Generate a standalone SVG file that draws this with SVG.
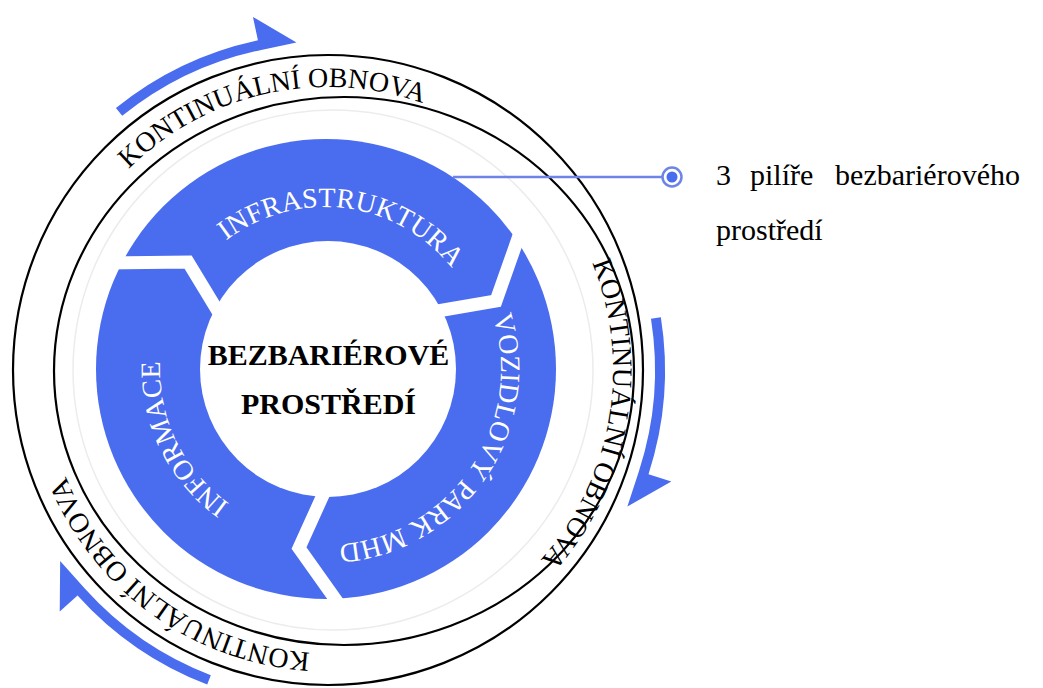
<svg xmlns="http://www.w3.org/2000/svg" width="1043" height="688" viewBox="0 0 1043 688">
<defs>
<style>
.serif{font-family:"Liberation Serif","Times New Roman",serif}
.ring-text{font-size:28px;fill:#ffffff}
.band-text{font-size:28px;fill:#000000}
.bline{fill:none;stroke:#000000;stroke-width:2.2}
.faint{fill:none;stroke:#ececec;stroke-width:1.5}
.gap{fill:none;stroke:#ffffff;stroke-width:13;stroke-linejoin:miter}
.blue{fill:#4A6CEE}
.label{font-size:30px;fill:#000000}
.center{font-size:30px;font-weight:bold;fill:#000000}
</style>
<path id="arrow" d="M122.21,115.87 A327,327 0 0 1 260.01,50.14 L296.47,42.51 L252.94,16.89 L257.93,40.36 A337,337 0 0 0 115.92,108.1 Z"/>
<path id="p-infra" d="M166.54,335.32 A162,162 0 0 1 486.9,374.65"/>
<path id="p-vozid" d="M435.76,232.22 A176,176 0 0 1 239.67,522.93"/>
<path id="p-inform" d="M384.13,523.04 A165,165 0 0 1 240.02,227.57"/>
<path id="p-top" d="M47.48,407.43 A283,283 0 0 1 597.75,284.43"/>
<path id="p-right" d="M401.04,94.52 A285,285 0 0 1 303.9,653.98"/>
<path id="p-bottom" d="M542.23,554.92 A283,283 0 0 1 84.91,225.08"/>
</defs>
<rect width="1043" height="688" fill="#ffffff"/>

<g id="cycle-arrows" class="blue">
<use href="#arrow"/>
<use href="#arrow" transform="rotate(120 328 370)"/>
<use href="#arrow" transform="rotate(240 328 370)"/>
</g>

<g id="node-obnova">
<circle cx="328" cy="370" r="315" class="bline"/>
<ellipse cx="344" cy="371" rx="290" ry="274" class="bline"/>
<circle cx="333" cy="370" r="260" class="faint"/>
<text class="serif band-text"><textPath href="#p-top" startOffset="50%" text-anchor="middle">KONTINUÁLNÍ OBNOVA</textPath></text>
<text class="serif band-text"><textPath href="#p-right" startOffset="50%" text-anchor="middle">KONTINUÁLNÍ OBNOVA</textPath></text>
<text class="serif band-text"><textPath href="#p-bottom" startOffset="50%" text-anchor="middle">KONTINUÁLNÍ OBNOVA</textPath></text>
</g>

<g id="node-ring">
<circle cx="326" cy="369" r="230" class="blue"/>
<circle cx="328" cy="369" r="128" fill="#ffffff"/>
<polyline class="gap" points="521,230 496,301 420,314"/>
<polyline class="gap" points="343,610 299,548 328,484"/>
<polyline class="gap" points="105,263 188,262 222,318"/>
</g>

<g id="node-infrastruktura">
<text class="serif ring-text"><textPath href="#p-infra" startOffset="50%" text-anchor="middle">INFRASTRUKTURA</textPath></text>
</g>
<g id="node-vozidla">
<text class="serif ring-text"><textPath href="#p-vozid" startOffset="50%" text-anchor="middle">VOZIDLOVÝ PARK MHD</textPath></text>
</g>
<g id="node-informace">
<text class="serif ring-text"><textPath href="#p-inform" startOffset="50%" text-anchor="middle">INFORMACE</textPath></text>
</g>

<g id="node-center">
<text class="serif center" x="328.5" y="365" text-anchor="middle">BEZBARIÉROVÉ</text>
<text class="serif center" x="328.5" y="414" text-anchor="middle">PROSTŘEDÍ</text>
</g>

<g id="connectors">
<line x1="453" y1="177" x2="662" y2="177" stroke="#6F84E6" stroke-width="2.5"/>
<circle cx="672" cy="177" r="9.5" fill="#ffffff" stroke="#6F84E6" stroke-width="2.5"/>
<circle cx="672" cy="177" r="5.5" class="blue"/>
</g>

<g id="node-label">
<text class="serif label" x="716" y="185">3</text>
<text class="serif label" x="750" y="185">pilíře</text>
<text class="serif label" x="1020" y="185" text-anchor="end">bezbariérového</text>
<text class="serif label" x="716" y="240">prostředí</text>
</g>
</svg>
